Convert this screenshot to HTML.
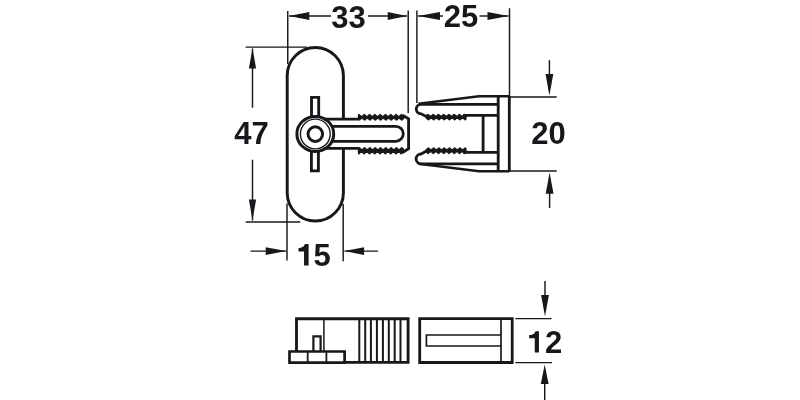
<!DOCTYPE html>
<html><head><meta charset="utf-8"><style>
html,body{margin:0;padding:0;background:#fff;width:800px;height:400px;overflow:hidden}
svg{display:block;will-change:transform}
text{font-family:"Liberation Sans",sans-serif;font-weight:bold;fill:#18181c;stroke:none}
</style></head><body>
<svg width="800" height="400" viewBox="0 0 800 400" stroke="#18181c" fill="none" stroke-linecap="butt">
<defs><clipPath id="cb"><rect x="357.9" y="100" width="46.5" height="70"/></clipPath><clipPath id="cl"><rect x="425.5" y="100" width="41" height="70"/></clipPath></defs>
<line x1="287.75" y1="11" x2="287.75" y2="64" stroke-width="1.45"/>
<line x1="408.2" y1="10.5" x2="408.2" y2="113" stroke-width="1.45"/>
<line x1="289" y1="16.0" x2="331" y2="16.0" stroke-width="1.45"/>
<polygon points="289,16.0 309.40,19.90 309.40,12.10" stroke="none" fill="#18181c"/>
<line x1="368" y1="16.0" x2="407" y2="16.0" stroke-width="1.45"/>
<polygon points="407,16.0 387.70,12.10 387.70,19.90" stroke="none" fill="#18181c"/>
<text x="348.6" y="28.2" text-anchor="middle" font-size="31">33</text>
<line x1="416.9" y1="10.5" x2="416.9" y2="103" stroke-width="1.45"/>
<line x1="509.5" y1="8.25" x2="509.5" y2="96" stroke-width="1.45"/>
<line x1="418" y1="16.0" x2="443" y2="16.0" stroke-width="1.45"/>
<polygon points="418,16.0 440.00,19.90 440.00,12.10" stroke="none" fill="#18181c"/>
<line x1="479.5" y1="16.0" x2="508.5" y2="16.0" stroke-width="1.45"/>
<polygon points="508.5,16.0 487.50,12.10 487.50,19.90" stroke="none" fill="#18181c"/>
<text x="461" y="26.8" text-anchor="middle" font-size="31">25</text>
<line x1="245.6" y1="47.1" x2="307" y2="47.1" stroke-width="1.45"/>
<line x1="245.7" y1="222" x2="300.3" y2="222" stroke-width="1.45"/>
<line x1="252.5" y1="48.5" x2="252.5" y2="107.7" stroke-width="1.45"/>
<polygon points="252.5,48.25 248.90,68.50 256.10,68.50" stroke="none" fill="#18181c"/>
<line x1="252.5" y1="159.7" x2="252.5" y2="220.5" stroke-width="1.45"/>
<polygon points="252.5,220.6 256.10,199.50 248.90,199.50" stroke="none" fill="#18181c"/>
<text x="251.4" y="144.3" text-anchor="middle" font-size="31">47</text>
<line x1="287" y1="203.5" x2="287" y2="260.4" stroke-width="1.45"/>
<line x1="343.2" y1="204" x2="343.2" y2="261.3" stroke-width="1.45"/>
<line x1="250.6" y1="251.1" x2="286" y2="251.1" stroke-width="1.45"/>
<polygon points="286.2,251.1 265.70,247.20 265.70,255.00" stroke="none" fill="#18181c"/>
<line x1="344.5" y1="251.1" x2="378.1" y2="251.1" stroke-width="1.45"/>
<polygon points="344.2,251.1 364.10,255.00 364.10,247.20" stroke="none" fill="#18181c"/>
<text x="313.6" y="265.6" text-anchor="start" font-size="31">5</text>
<path d="M304.05,265.5 L308.6,265.5 L308.6,244.06 L304.9,244.06 C304.2,246.6 301.8,248.1 298.45,248.2 L298.45,251.6 L304.05,251.6 Z" stroke-width="0" fill="#18181c"/>
<line x1="509" y1="96.9" x2="556.7" y2="96.9" stroke-width="1.45"/>
<line x1="509" y1="171" x2="556.7" y2="171" stroke-width="1.45"/>
<line x1="549.4" y1="60.2" x2="549.4" y2="90" stroke-width="1.45"/>
<polygon points="549.4,95.5 553.30,74.00 545.50,74.00" stroke="none" fill="#18181c"/>
<line x1="549.6" y1="178" x2="549.6" y2="208" stroke-width="1.45"/>
<polygon points="549.6,172.5 545.70,193.70 553.50,193.70" stroke="none" fill="#18181c"/>
<text x="548.4" y="144.3" text-anchor="middle" font-size="31">20</text>
<line x1="515.3" y1="318.6" x2="551.5" y2="318.6" stroke-width="1.45"/>
<line x1="515.3" y1="362.6" x2="552" y2="362.6" stroke-width="1.45"/>
<line x1="545" y1="281" x2="545" y2="300" stroke-width="1.45"/>
<polygon points="545,316.5 548.90,295.00 541.10,295.00" stroke="none" fill="#18181c"/>
<line x1="544.7" y1="370" x2="544.7" y2="400" stroke-width="1.45"/>
<polygon points="544.7,364.5 540.80,384.00 548.60,384.00" stroke="none" fill="#18181c"/>
<text x="545.1" y="352.8" text-anchor="start" font-size="31">2</text>
<path d="M534.75,352.5 L538.95,352.5 L538.95,331.15 L535.5,331.15 C534.9,333.6 532.6,335 529.15,335.1 L529.15,338.3 L534.75,338.3 Z" stroke-width="0" fill="#18181c"/>
<path d="M343.4,119 L343.4,75.6 A28.1,28.1 0 0 0 287.2,75.6 L287.2,192.8 A28.1,28.3 0 0 0 343.4,192.8 L343.4,148.5" stroke-width="2.95" fill="none"/>
<path d="M311.5,116 L311.5,97.4 L318.7,97.4 L318.7,116" stroke-width="2.85" fill="none"/>
<path d="M311.4,152 L311.4,170.9 L318.4,170.9 L318.4,152" stroke-width="2.85" fill="none"/>
<ellipse cx="315.3" cy="133.9" rx="18.4" ry="17.5" stroke-width="3.0" fill="#fff"/>
<circle cx="315.3" cy="134" r="14.9" stroke-width="1.4" fill="none"/>
<circle cx="315.3" cy="134.1" r="7.3" stroke-width="3" fill="none"/>
<path d="M324,119.1 L358.5,119.1" stroke-width="2.85" fill="none"/>
<path d="M324,148.3 L358.5,148.3" stroke-width="2.85" fill="none"/>
<path d="M356.10,117.30 L358.80,114.75 L362.10,117.30 L359.40,119.85 Z M361.40,117.30 L364.10,114.75 L367.40,117.30 L364.70,119.85 Z M366.70,117.30 L369.40,114.75 L372.70,117.30 L370.00,119.85 Z M372.00,117.30 L374.70,114.75 L378.00,117.30 L375.30,119.85 Z M377.30,117.30 L380.00,114.75 L383.30,117.30 L380.60,119.85 Z M382.60,117.30 L385.30,114.75 L388.60,117.30 L385.90,119.85 Z M387.90,117.30 L390.60,114.75 L393.90,117.30 L391.20,119.85 Z M393.20,117.30 L395.90,114.75 L399.20,117.30 L396.50,119.85 Z M398.50,117.30 L401.20,114.75 L404.50,117.30 L401.80,119.85 Z " stroke-width="1.7" stroke-linejoin="round" fill="#18181c" clip-path="url(#cb)"/>
<path d="M356.10,150.75 L359.40,147.95 L362.10,150.75 L358.80,153.55 Z M361.40,150.75 L364.70,147.95 L367.40,150.75 L364.10,153.55 Z M366.70,150.75 L370.00,147.95 L372.70,150.75 L369.40,153.55 Z M372.00,150.75 L375.30,147.95 L378.00,150.75 L374.70,153.55 Z M377.30,150.75 L380.60,147.95 L383.30,150.75 L380.00,153.55 Z M382.60,150.75 L385.90,147.95 L388.60,150.75 L385.30,153.55 Z M387.90,150.75 L391.20,147.95 L393.90,150.75 L390.60,153.55 Z M393.20,150.75 L396.50,147.95 L399.20,150.75 L395.90,153.55 Z M398.50,150.75 L401.80,147.95 L404.50,150.75 L401.20,153.55 Z " stroke-width="1.7" stroke-linejoin="round" fill="#18181c" clip-path="url(#cb)"/>
<path d="M402.5,115.2 L408.6,118.8 L408.6,148.6 L402.5,152.5" stroke-width="2.85" fill="none"/>
<path d="M331.5,126.3 L395.8,126.3 A7.5,7.5 0 0 1 395.8,141.3 L331.5,141.3" stroke-width="2.85" fill="none"/>
<path d="M498,104.3 L421,104.3 A4.75,4.75 0 0 0 421,113.8 L426.5,116.6" stroke-width="2.85" fill="none"/>
<path d="M425.20,117.15 L427.90,114.65 L431.20,117.15 L428.50,119.65 Z M430.45,117.15 L433.15,114.65 L436.45,117.15 L433.75,119.65 Z M435.70,117.15 L438.40,114.65 L441.70,117.15 L439.00,119.65 Z M440.95,117.15 L443.65,114.65 L446.95,117.15 L444.25,119.65 Z M446.20,117.15 L448.90,114.65 L452.20,117.15 L449.50,119.65 Z M451.45,117.15 L454.15,114.65 L457.45,117.15 L454.75,119.65 Z M456.70,117.15 L459.40,114.65 L462.70,117.15 L460.00,119.65 Z M461.95,117.15 L464.65,114.65 L467.95,117.15 L465.25,119.65 Z " stroke-width="1.7" stroke-linejoin="round" fill="#18181c" clip-path="url(#cl)"/>
<path d="M463,115.3 L498,115.3" stroke-width="2.85" fill="none"/>
<path d="M498,163.8 L421,163.8 A4.9,4.9 0 0 1 421,154 L426.5,151" stroke-width="2.85" fill="none"/>
<path d="M425.20,150.70 L428.50,148.15 L431.20,150.70 L427.90,153.25 Z M430.45,150.70 L433.75,148.15 L436.45,150.70 L433.15,153.25 Z M435.70,150.70 L439.00,148.15 L441.70,150.70 L438.40,153.25 Z M440.95,150.70 L444.25,148.15 L446.95,150.70 L443.65,153.25 Z M446.20,150.70 L449.50,148.15 L452.20,150.70 L448.90,153.25 Z M451.45,150.70 L454.75,148.15 L457.45,150.70 L454.15,153.25 Z M456.70,150.70 L460.00,148.15 L462.70,150.70 L459.40,153.25 Z M461.95,150.70 L465.25,148.15 L467.95,150.70 L464.65,153.25 Z " stroke-width="1.7" stroke-linejoin="round" fill="#18181c" clip-path="url(#cl)"/>
<path d="M463,152.4 L498,152.4" stroke-width="2.85" fill="none"/>
<path d="M418.5,103.8 L479,96.2 L509.5,96.2" stroke-width="2.4" fill="none"/>
<path d="M418.5,163.8 L479,171.2 L509.5,171.2" stroke-width="2.4" fill="none"/>
<path d="M498.2,96.2 L498.2,171.2" stroke-width="2.85" fill="none"/>
<path d="M509.3,96 L509.3,171.4" stroke-width="2.85" fill="none"/>
<path d="M483.1,115.3 L483.1,152.4" stroke-width="2.85" fill="none"/>
<path d="M296.5,351 L296.5,318.7 L408.1,318.7 L408.1,362.4 L345,362.4" stroke-width="2.85" fill="none"/>
<line x1="323.9" y1="318.7" x2="323.9" y2="351" stroke-width="1.5"/>
<line x1="359.3" y1="318.7" x2="359.3" y2="362.4" stroke-width="2.0"/>
<line x1="365.2" y1="318.7" x2="365.2" y2="362.4" stroke-width="2.0"/>
<line x1="370.9" y1="318.7" x2="370.9" y2="362.4" stroke-width="2.0"/>
<line x1="376.9" y1="318.7" x2="376.9" y2="362.4" stroke-width="2.0"/>
<line x1="382.9" y1="318.7" x2="382.9" y2="362.4" stroke-width="2.0"/>
<line x1="388.8" y1="318.7" x2="388.8" y2="362.4" stroke-width="2.0"/>
<line x1="394.7" y1="318.7" x2="394.7" y2="362.4" stroke-width="2.0"/>
<line x1="400.5" y1="318.7" x2="400.5" y2="362.4" stroke-width="2.0"/>
<path d="M313.4,351 L313.4,336.4 L320.6,336.4 L320.6,351" stroke-width="2.2" fill="none"/>
<path d="M289.5,351.5 L344.6,351.5 L344.6,362.7 L289.5,362.7 Z" stroke-width="2.7" fill="none"/>
<line x1="307.7" y1="351.5" x2="307.7" y2="362.7" stroke-width="1.8"/>
<line x1="326.4" y1="351.5" x2="326.4" y2="362.7" stroke-width="1.8"/>
<path d="M419.7,318.7 L512.2,318.7 L512.2,362.5 L419.7,362.5 Z" stroke-width="2.8" fill="none"/>
<line x1="501" y1="318.7" x2="501" y2="362.5" stroke-width="1.7"/>
<path d="M501,335 L426.4,335 L426.4,346 L501,346" stroke-width="1.7" fill="none"/>
</svg>
</body></html>
